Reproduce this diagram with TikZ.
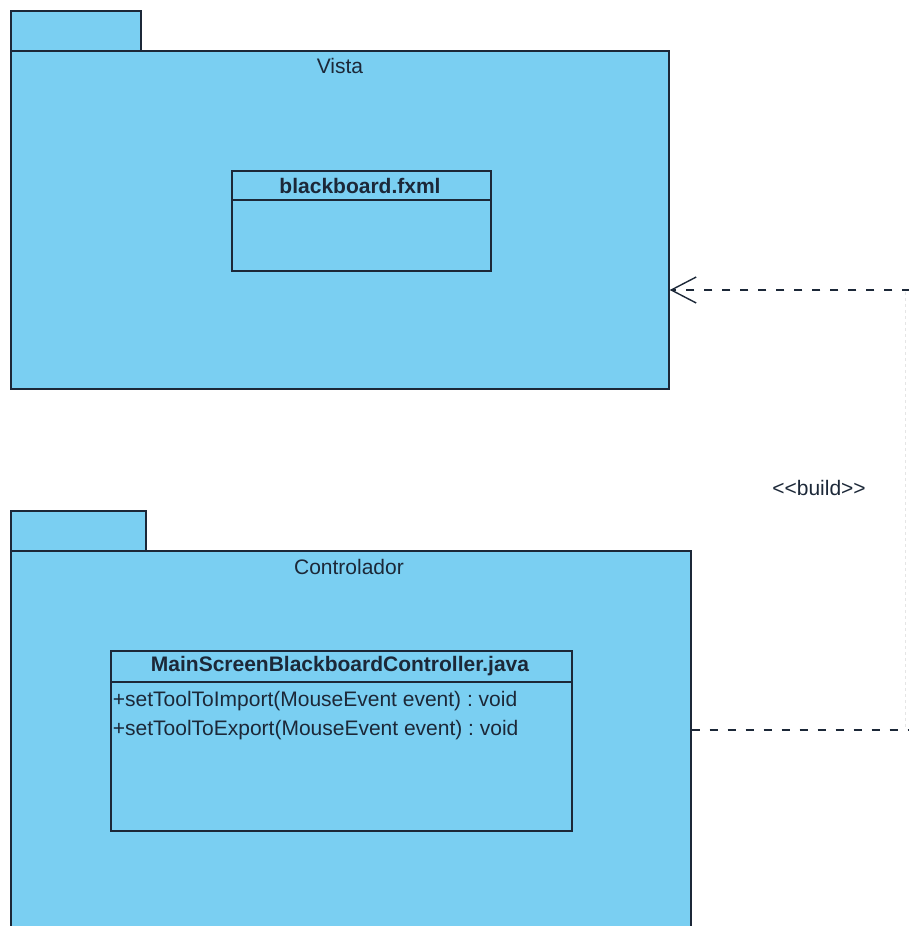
\documentclass[tikz,border=0pt]{standalone}
\usepackage{fontspec}
\setmainfont{Liberation Sans}
\usetikzlibrary{arrows.meta}

\definecolor{pkgblue}{RGB}{122,207,242}
\definecolor{pkgline}{RGB}{28,40,56}

\begin{document}
\frenchspacing
\begin{tikzpicture}[x=1pt, y=-1pt, line width=1.7pt, text=pkgline,
        pkg/.style={draw=pkgline, fill=pkgblue, inner sep=0pt, anchor=north west},
        cls/.style={draw=pkgline, fill=pkgblue, inner sep=0pt, anchor=north west},
        dep/.style={draw=pkgline, line width=1.4pt, dash pattern=on 8pt off 10pt},
        font=\fontsize{21}{24}\selectfont]
        \useasboundingbox (0, 0) rectangle (908, 926);

        % Vista package
        \node[pkg, minimum width=130pt, minimum height=40pt] (vistatab) at (10, 10) {};
        \node[pkg, minimum width=658pt, minimum height=338pt] (vista) at (10, 50) {};
        \node (vistalbl) at (340, 66) {Vista};

        \node[cls, minimum width=259pt, minimum height=100pt] (fxml) at (231, 170) {};
        \draw[pkgline] (231, 200) -- (490, 200);
        \node[font=\fontsize{21}{24}\selectfont\bfseries] (fxmlname) at (360, 186) {blackboard.fxml};

        % Controlador package
        \node[pkg, minimum width=135pt, minimum height=40pt] (ctrltab) at (10, 510) {};
        \node[pkg, minimum width=680pt, minimum height=420pt] (ctrl) at (10, 550) {};
        \node (ctrllbl) at (349, 567) {Controlador};

        \node[cls, minimum width=461pt, minimum height=180pt] (mainctrl) at (110, 650) {};
        \draw[pkgline] (110, 682) -- (571, 682);
        \node[font=\fontsize{21}{24}\selectfont\bfseries] (mainname) at (340, 666) {MainScreenBlackboardController.java};
        \node[anchor=west, inner sep=0pt] (op1) at (112, 701) {+setToolToImport(MouseEvent event) : void};
        \node[anchor=west, inner sep=0pt] (op2) at (112, 730) {+setToolToExport(MouseEvent event) : void};

        % <<build>> dependency
        \coordinate (low) at (914, 730);
        \coordinate (high) at (914, 290);
        \draw[dep, -{Straight Barb[length=25pt, width=26pt, line width=1.4pt]}] (ctrl.east |- low) -- (low) -- (high) -- (vista.east |- high);
        \draw[gray!20, line width=1pt, dash pattern=on 3pt off 3pt] (905, 292) -- (905, 728);
        \node (buildlbl) at (819, 488) {{<}{<}build{>}{>}};
\end{tikzpicture}
\end{document}
